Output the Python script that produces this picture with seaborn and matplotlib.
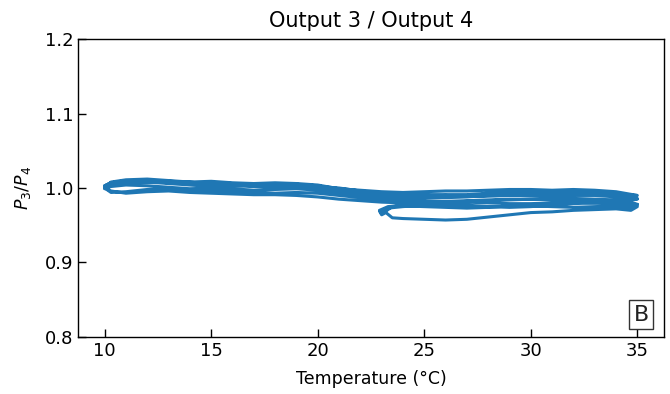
import numpy as np
import pandas as pd
import matplotlib
matplotlib.use("Agg")
import matplotlib.pyplot as plt
import seaborn as sns

# Temperature grids (°C)
t_up = [10, 10.3, 11, 12, 13, 14, 15, 16, 17, 18, 19, 20, 21, 22, 23, 24, 25, 26, 27, 28, 29, 30, 31, 32, 33, 34, 35]
t_down = t_up[::-1]
t_part_down = [35, 34, 33, 32, 31, 30, 29, 28, 27, 26, 25, 24, 23.3, 22.9, 23.0, 23.2]
t_part_up = [23.2, 23.5, 24, 25, 26, 27, 28, 29, 30, 31, 32, 33, 34, 34.7, 35]

# Ratio P3/P4 for each sweep
sweep_a = [1.001, 1.008, 1.011, 1.012, 1.010, 1.008, 1.009, 1.007, 1.006, 1.007, 1.006, 1.004, 0.999, 0.997, 0.995, 0.994, 0.995, 0.996, 0.996, 0.997, 0.998, 0.998, 0.997, 0.998, 0.997, 0.995, 0.990]
sweep_b = [0.990, 0.991, 0.993, 0.994, 0.995, 0.994, 0.993, 0.992, 0.990, 0.990, 0.991, 0.992, 0.993, 0.996, 1.000, 1.002, 1.003, 1.002, 1.003, 1.004, 1.005, 1.008, 1.009, 1.008, 1.006, 1.004, 1.000]
sweep_c = [0.999, 1.002, 1.004, 1.003, 1.001, 0.999, 1.000, 0.999, 0.997, 0.998, 0.999, 0.997, 0.992, 0.989, 0.987, 0.985, 0.986, 0.987, 0.988, 0.990, 0.991, 0.990, 0.989, 0.990, 0.990, 0.988, 0.985]
sweep_d = [0.985, 0.984, 0.985, 0.986, 0.986, 0.985, 0.984, 0.983, 0.982, 0.981, 0.982, 0.983, 0.985, 0.987, 0.990, 0.993, 0.994, 0.993, 0.994, 0.996, 0.996, 0.997, 0.999, 0.998, 0.995, 0.994, 1.000]
sweep_e = [1.000, 0.996, 0.993, 0.995, 0.996, 0.994, 0.993, 0.992, 0.991, 0.991, 0.990, 0.988, 0.985, 0.983, 0.981, 0.980, 0.981, 0.982, 0.983, 0.984, 0.985, 0.985, 0.984, 0.984, 0.983, 0.981, 0.978]
sweep_f = [0.978, 0.989, 0.992, 0.993, 0.992, 0.991, 0.990, 0.989, 0.989, 0.990, 0.989, 0.990, 0.992, 0.995, 0.998, 1.003, 1.005, 1.004, 1.005, 1.006, 1.007, 1.006, 1.007, 1.009, 1.010, 1.007, 1.003]
sweep_g = [1.003, 1.007, 1.009, 1.008, 1.006, 1.004, 1.002, 1.003, 1.002, 1.001, 1.002, 1.000, 0.995, 0.992, 0.990, 0.989, 0.990, 0.991, 0.991, 0.993, 0.994, 0.995, 0.996, 0.995, 0.994, 0.992, 0.986]
sweep_h = [0.986, 0.982, 0.980, 0.979, 0.977, 0.975, 0.974, 0.975, 0.977, 0.978, 0.977, 0.975, 0.973, 0.969, 0.964, 0.967]
sweep_i = [0.967, 0.960, 0.959, 0.958, 0.957, 0.958, 0.961, 0.964, 0.967, 0.968, 0.970, 0.971, 0.972, 0.970, 0.975]
sweep_j = [0.975, 0.978, 0.980, 0.981, 0.980, 0.979, 0.979, 0.980, 0.981, 0.981, 0.979, 0.977, 0.975, 0.970, 0.966, 0.969]
sweep_k = [0.969, 0.975, 0.976, 0.975, 0.974, 0.973, 0.974, 0.976, 0.976, 0.975, 0.974, 0.975, 0.976, 0.972, 0.978]

segments = [
    (t_up, sweep_a), (t_down, sweep_b), (t_up, sweep_c), (t_down, sweep_d),
    (t_up, sweep_e), (t_down, sweep_f), (t_up, sweep_g),
    (t_part_down, sweep_h), (t_part_up, sweep_i), (t_part_down, sweep_j), (t_part_up, sweep_k),
]
temps, ratios, order = [], [], []
for t, r in segments:
    for a, b in zip(t, r):
        order.append(len(order))
        temps.append(a)
        ratios.append(b)
df = pd.DataFrame({"order": order, "Temperature": temps, "Ratio": ratios})

sns.set_theme(style="white")
plt.rcParams["font.family"] = ["DejaVu Sans"]
plt.rcParams["mathtext.fontset"] = "dejavusans"

fig = plt.figure(figsize=(6.7, 3.94), dpi=100)
ax = fig.add_axes([0.1164, 0.1447, 0.8746, 0.7563])

sns.lineplot(data=df, x="Temperature", y="Ratio", sort=False, estimator=None,
             color="#1f77b4", linewidth=2.2, ax=ax)

ax.set_ylim(0.8, 1.2)
ax.set_xlim(8.75, 36.25)
ax.set_yticks([0.8, 0.9, 1.0, 1.1, 1.2])
ax.set_xticks([10, 15, 20, 25, 30, 35])
ax.tick_params(axis="both", direction="in", length=6, width=1, labelsize=13,
               colors="black", bottom=True, left=True)
for s in ax.spines.values():
    s.set_color("black")
    s.set_linewidth(1.0)
ax.set_xlabel("Temperature (°C)", fontsize=12.5, color="black", labelpad=7)
ax.set_ylabel("$P_3/P_4$", fontsize=12.5, color="black", labelpad=8)
ax.set_title("Output 3 / Output 4", fontsize=15, color="black", pad=9)
ax.text(0.961, 0.075, "B", transform=ax.transAxes, fontsize=16, color="#222222",
        ha="center", va="center",
        bbox=dict(boxstyle="square,pad=0.2", facecolor="white", edgecolor="#333333", linewidth=1.0))

fig.savefig("out.png", dpi=100)
